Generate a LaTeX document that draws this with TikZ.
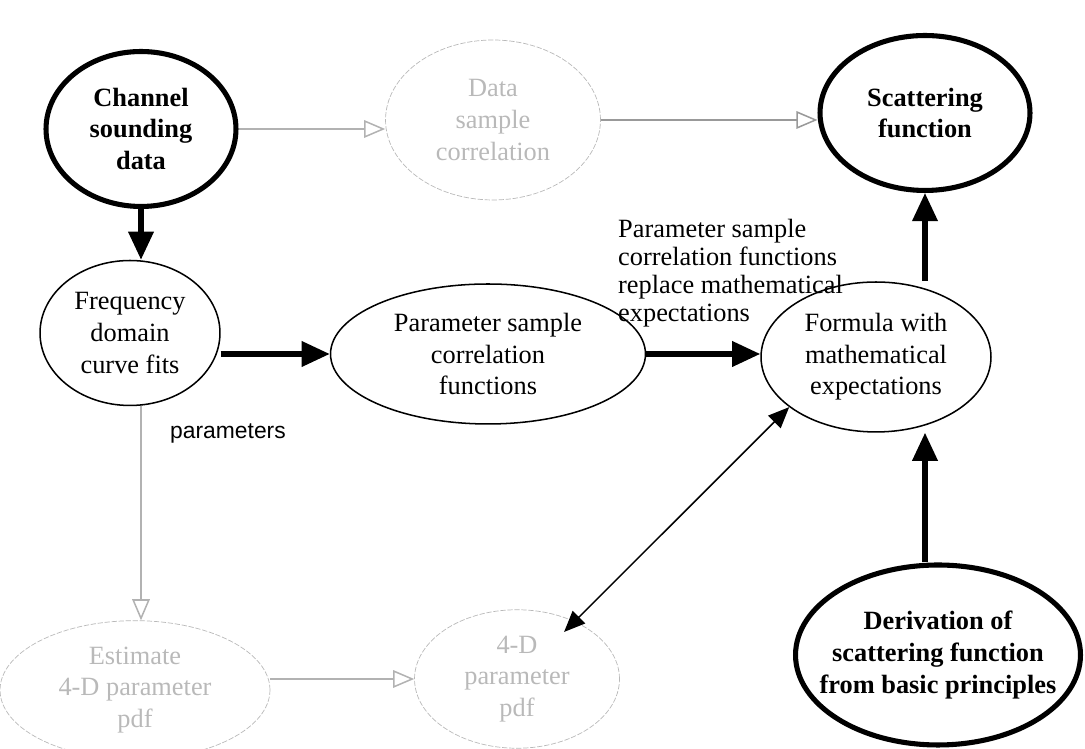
\documentclass[tikz,border=0pt]{standalone}
\usepackage{fontspec}
\setmainfont{Liberation Serif}
\newfontfamily\labelsans{Liberation Sans}
\usetikzlibrary{arrows.meta,shapes.geometric}

\begin{document}
\begin{tikzpicture}[x=0.02cm,y=0.02cm,
	every node/.style={font=\fontsize{15}{18}\selectfont, align=center},
	bigbox/.style={ellipse, draw, line width=.04in, font=\fontsize{15}{18}\selectfont\bfseries},
	thinbox/.style={ellipse, draw, line width=.012in},
	faintbox/.style={ellipse, draw=gray!55, dashed, dash pattern=on 3pt off 1pt, text=gray!55},
	bigarrow/.style={line width=.04in, -{Triangle[length=16pt,width=14pt]}},
	faintarrow/.style={gray!60, line width=.012in, -{Triangle[length=12pt,width=10pt,open]}},
	thinarrow/.style={line width=.012in, {Triangle[length=12pt,width=10pt]}-{Triangle[length=12pt,width=10pt]}}]
	\useasboundingbox (0,0) rectangle (1085,749);
	
	\node[bigbox, minimum width=3.8cm, minimum height=3.1cm] (chan) at (141,620) {Channel\\sounding\\data};
	\node[faintbox, minimum width=4.3cm, minimum height=3.2cm] (data) at (493,629) {Data\\sample\\correlation};
	\node[bigbox, minimum width=4.2cm, minimum height=3.1cm] (scat) at (925,636) {Scattering\\function};
	
	\node[thinbox, minimum width=3.6cm, minimum height=2.9cm] (freq) at (130,416) {Frequency\\domain\\curve fits};
	\node[thinbox, minimum width=6.3cm, minimum height=2.8cm] (psc) at (488,395) {Parameter sample\\correlation\\functions};
	\node[thinbox, minimum width=4.6cm, minimum height=3cm] (form) at (876,392) {Formula with\\mathematical\\expectations};
	
	\node[faintbox, minimum width=5.4cm, minimum height=2.3cm] (est) at (135,59) {Estimate\\4-D parameter\\pdf};
	\node[faintbox, minimum width=4.1cm, minimum height=2.5cm] (pdf) at (517,70) {4-D\\parameter\\pdf};
	\node[bigbox, inner xsep=-0.4cm, minimum width=5.7cm, minimum height=3.6cm] (deriv) at (938,94) {Derivation of\\scattering function\\from basic principles};
	
	\node[align=left, anchor=north west, font=\fontsize{15}{16}\selectfont] (note) at (612,536) {Parameter sample\\correlation functions\\replace mathematical\\expectations};
	\node[font=\labelsans\fontsize{13}{15}\selectfont] (par) at (228,316) {parameters};
	
	\draw[faintarrow] (chan.east) -- (chan.east -| data.west);
	\draw[faintarrow, gray!80] (data.east) -- (data.east -| scat.west);
	\draw[bigarrow] (chan) -- (chan |- freq.north);
	\draw[bigarrow] (freq.east |- psc) -- (psc.west);
	\draw[bigarrow] (psc.east) -- (form.west |- psc.east);
	\draw[bigarrow] (scat |- form.north) -- (scat.south);
	\draw[bigarrow] (deriv.north -| scat) -- (scat |- form.south);
	\draw[faintarrow] (chan |- freq.south) -- (chan |- est.north);
	\draw[faintarrow] (est.east |- pdf) -- (pdf.west);
	\draw[thinarrow, shorten <=-0.3cm] (pdf) -- (form.210);
\end{tikzpicture}
\end{document}
